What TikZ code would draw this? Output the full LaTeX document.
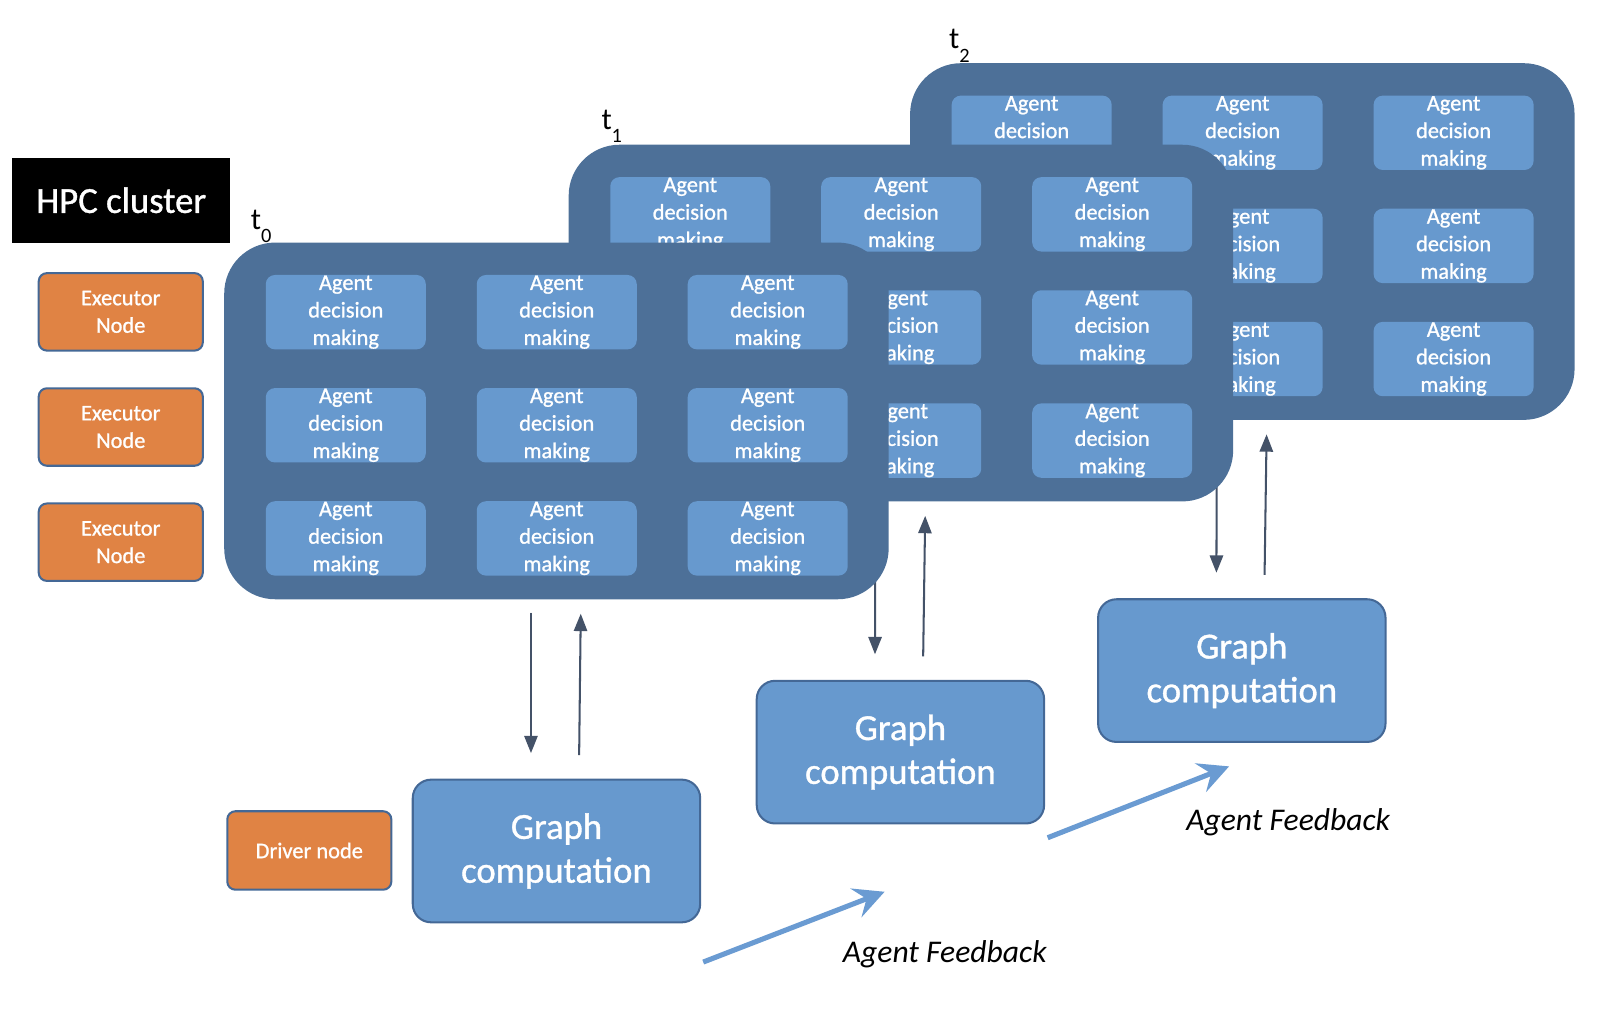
\documentclass[tikz,border=0pt]{standalone}
\usepackage{fontspec}
\setmainfont{Carlito}
\newfontfamily\boxfont{Carlito}[FakeBold=1.0]
\usepackage{xcolor}
\usepackage{tikz}
\usetikzlibrary{arrows.meta,positioning,calc,backgrounds}

\definecolor{panelblue}{RGB}{77,112,152}
\definecolor{agentblue}{RGB}{103,153,206}
\definecolor{execorange}{RGB}{224,131,68}
\definecolor{borderblue}{RGB}{68,104,150}
\definecolor{arrowgray}{RGB}{68,82,104}
\definecolor{feedblue}{RGB}{106,155,210}

\newcommand{\agenttext}{Agent\\decision\\making}

\begin{document}
\begin{tikzpicture}[
    x=1pt, y=-1pt,
    node distance=35pt,
    panel/.style={rectangle, fill=panelblue, rounded corners=50pt, minimum width=652pt, minimum height=350pt, inner sep=0pt},
    agent/.style={rectangle, fill=agentblue, rounded corners=9pt, minimum width=157pt, minimum height=73pt, inner sep=0pt, text=white, align=center, font=\boxfont\fontsize{22}{27}\selectfont},
    execbox/.style={rectangle, fill=execorange, draw=borderblue, line width=2pt, rounded corners=8pt, minimum width=161pt, minimum height=76pt, inner sep=0pt, text=white, align=center, font=\boxfont\fontsize{22}{27}\selectfont},
    gcbox/.style={rectangle, fill=agentblue, draw=borderblue, line width=2pt, rounded corners=18pt, minimum width=282pt, minimum height=140pt, inner sep=0pt, text=white, align=center, font=\boxfont\fontsize{36}{43}\selectfont},
    tlabel/.style={anchor=base west, inner sep=0pt, font=\fontsize{30}{30}\selectfont},
    flow/.style={-{Triangle[length=17pt,width=13pt]}, line width=2pt, draw=arrowgray, fill=arrowgray},
    feedback/.style={-{Stealth[length=30pt,width=30pt,inset=11pt]}, line width=5pt, draw=feedblue, fill=feedblue},
    fblabel/.style={inner sep=0pt, font=\fontsize{31}{31}\selectfont\itshape}
]
    \useasboundingbox (0,0) rectangle (1568,997);

    % Cluster legend
    \node[rectangle, fill=black, minimum width=214pt, minimum height=83pt, text=white, font=\boxfont\fontsize{36}{36}\selectfont] (hpc) at (119,196.5) {HPC cluster};
    \node[execbox] (exec1) at (118.5,306) {Executor\\Node};
    \node[execbox, below=of exec1] (exec2) {Executor\\Node};
    \node[execbox, below=of exec2] (exec3) {Executor\\Node};
    \node[execbox, minimum height=77pt] (driver) at (303.5,834.5) {Driver node};

    % Time steps (back to front)
    \node[panel] (panel2) at (1219,237) {};
    \foreach \r in {0,1,2}
        \foreach \c in {0,1,2}
            \node[agent] (agent2-\r-\c) at ($(panel2.north west)+(119.5+\c*207,68.5+\r*111)$) {\agenttext};
    \node[panel] (panel1) at (884,317) {};
    \foreach \r in {0,1,2}
        \foreach \c in {0,1,2}
            \node[agent] (agent1-\r-\c) at ($(panel1.north west)+(119.5+\c*207,68.5+\r*111)$) {\agenttext};
    \node[panel] (panel0) at (546,413) {};
    \foreach \r in {0,1,2}
        \foreach \c in {0,1,2}
            \node[agent] (agent0-\r-\c) at ($(panel0.north west)+(119.5+\c*207,68.5+\r*111)$) {\agenttext};

    \node[tlabel] (t0) at (246,225) {t\raisebox{-13pt}{\fontsize{20}{20}\selectfont 0}};
    \node[tlabel] (t1) at (590,127) {t\raisebox{-13pt}{\fontsize{20}{20}\selectfont 1}};
    \node[tlabel] (t2) at (931,48) {t\raisebox{-13pt}{\fontsize{20}{20}\selectfont 2}};

    % Graph computation
    \node[gcbox] (gc0) at (546,835) {Graph\\computation};
    \node[gcbox] (gc1) at (883.5,738) {Graph\\computation};
    \node[gcbox] (gc2) at (1218.5,658) {Graph\\computation};

    % Exchange arrows
    \begin{scope}[on background layer]
        \foreach \i in {0,1,2} {
            \draw[flow, shorten <=13pt, shorten >=25pt] ([xshift=-25pt]panel\i.south) -- ([xshift=-25pt]gc\i.north);
            \draw[flow, shorten <=23pt, shorten >=14pt] ([xshift=22pt]gc\i.north) -- ([xshift=24pt]panel\i.south);
        }
    \end{scope}

    % Agent feedback
    \coordinate (fb0 start) at (690,944);
    \coordinate (fb0 end) at (868,875);
    \coordinate (fb1 start) at (1028,822);
    \coordinate (fb1 end) at (1206,752);
    \draw[feedback] (fb0 start) -- (fb0 end);
    \draw[feedback] (fb1 start) -- (fb1 end);
    \node[fblabel] (fb0 label) at (927,936) {Agent Feedback};
    \node[fblabel] (fb1 label) at (1264,807) {Agent Feedback};
\end{tikzpicture}
\end{document}
